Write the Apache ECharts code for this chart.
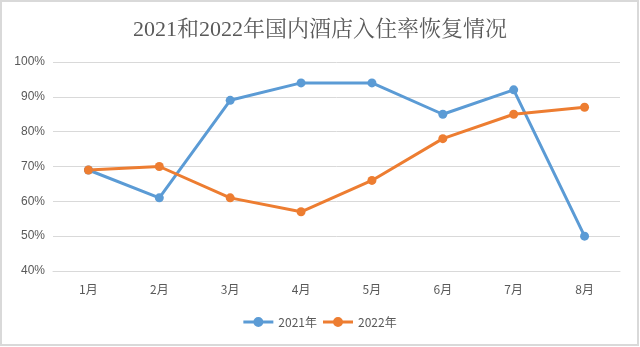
<!DOCTYPE html>
<html>
<head>
<meta charset="utf-8">
<script src="https://cdn.jsdelivr.net/npm/echarts@6/dist/echarts.min.js"></script>
<style>
  html, body { margin: 0; padding: 0; background: #fff; }
  #chart { width: 640px; height: 347px; }
</style>
</head>
<body>
<div id="chart"></div>
<script>
// Monthly hotel occupancy recovery, percent
const months = ['1月', '2月', '3月', '4月', '5月', '6月', '7月', '8月'];
const occ2021 = [69, 61, 89, 94, 94, 85, 92, 50];
const occ2022 = [69, 70, 61, 57, 66, 78, 85, 87];
const seriesNames = ['2021年', '2022年'];
const yTicks = { min: 40, max: 100, interval: 10 };

const chart = echarts.init(document.getElementById('chart'), null, { renderer: 'canvas' });

const lineSeries = (name, data, color) => ({
  name,
  type: 'line',
  data,
  symbol: 'circle',
  symbolSize: 9,
  lineStyle: { width: 3, color },
  itemStyle: { color },
  emphasis: { disabled: true }
});

// legend swatch: short line with a dot in the middle
const lineDotIcon = 'path://M0,3.6 L30,3.6 L30,6.4 L0,6.4 Z M10,5 A5,5 0 1,1 20,5 A5,5 0 1,1 10,5 Z';

chart.setOption({
  animation: false,
  backgroundColor: '#ffffff',
  graphic: [{
    type: 'rect',
    shape: { x: 1, y: 1, width: 637, height: 344 },
    style: { fill: 'none', stroke: '#d9d9d9', lineWidth: 2 },
    silent: true
  }],
  title: {
    text: '2021和2022年国内酒店入住率恢复情况',
    left: 'center',
    top: 14,
    textStyle: {
      fontFamily: '"Liberation Serif", "Noto Serif CJK SC", "Noto Sans CJK SC", serif',
      fontSize: 22,
      fontWeight: 'normal',
      color: '#595959'
    }
  },
  legend: {
    data: seriesNames,
    bottom: 14,
    left: 'center',
    itemWidth: 30,
    itemHeight: 10,
    itemGap: 6,
    icon: lineDotIcon,
    textStyle: {
      fontFamily: '"Noto Sans CJK SC", sans-serif',
      fontSize: 12,
      color: '#595959'
    }
  },
  grid: { left: 53, right: 20, top: 62, bottom: 76 },
  xAxis: {
    type: 'category',
    data: months,
    boundaryGap: true,
    axisLine: { show: true, lineStyle: { color: '#d9d9d9', width: 1 } },
    axisTick: { show: false },
    axisLabel: {
      margin: 12,
      fontFamily: '"Noto Sans CJK SC", sans-serif',
      fontSize: 12,
      color: '#595959'
    }
  },
  yAxis: {
    type: 'value',
    min: yTicks.min,
    max: yTicks.max,
    interval: yTicks.interval,
    axisLine: { show: false },
    axisTick: { show: false },
    splitLine: { lineStyle: { color: '#d9d9d9', width: 1 } },
    axisLabel: {
      formatter: '{value}%',
      margin: 8,
      fontFamily: '"Liberation Sans", Arial, sans-serif',
      fontSize: 12,
      color: '#595959'
    }
  },
  series: [
    lineSeries(seriesNames[0], occ2021, '#5b9bd5'),
    lineSeries(seriesNames[1], occ2022, '#ed7d31')
  ]
});
</script>
</body>
</html>
